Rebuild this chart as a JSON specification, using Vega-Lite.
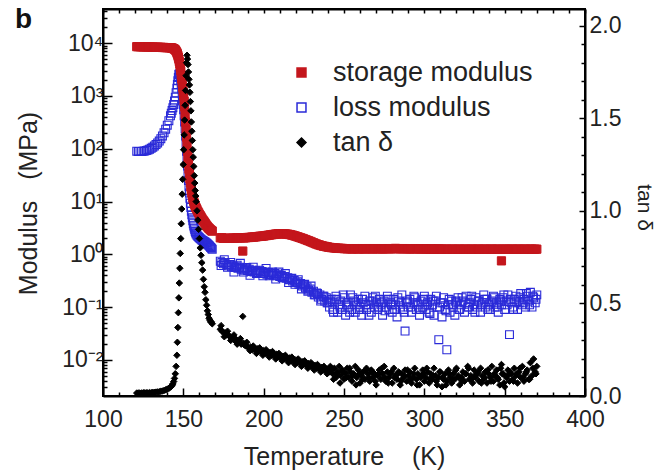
{
"$schema": "https://vega.github.io/schema/vega-lite/v6.json",
"width": 482, "height": 387,
"autosize": {"type": "none"},
"padding": {"left": 103, "top": 9, "right": 80, "bottom": 79},
"background": "white",
"title": {"text": "b", "anchor": "start", "frame": "group", "fontSize": 28, "fontWeight": "bold", "font": "Liberation Sans", "color": "#111", "baseline": "alphabetic", "offset": 0, "dx": -88, "dy": 56},
"data": {"values": [
{"T":121,"a":8600,"b":90,"c":0.016},{"T":122,"a":8600,"b":89,"c":0.016},{"T":123,"a":8600,"b":89,"c":0.016},{"T":124,"a":8550,"b":89,"c":0.016},{"T":125,"a":8550,"b":90,"c":0.017},{"T":126,"a":8550,"b":91,"c":0.017},{"T":127,"a":8500,"b":93,"c":0.017},{"T":128,"a":8500,"b":95,"c":0.017},{"T":129,"a":8500,"b":98,"c":0.018},{"T":130,"a":8450,"b":102,"c":0.018},{"T":131,"a":8450,"b":107,"c":0.019},{"T":132,"a":8400,"b":113,"c":0.02},{"T":133,"a":8400,"b":120,"c":0.021},{"T":134,"a":8400,"b":129,"c":0.022},{"T":135,"a":8350,"b":140,"c":0.023},{"T":136,"a":8350,"b":155,"c":0.025},{"T":137,"a":8300,"b":175,"c":0.027},{"T":138,"a":8300,"b":200,"c":0.03},{"T":139,"a":8250,"b":235,"c":0.033},{"T":140,"a":8250,"b":280,"c":0.037},{"T":141,"a":8200,"b":340,"c":0.042},{"T":142,"a":8200,"b":420,"c":0.048},{"T":142.5,"a":8150,"b":470,"c":0.052},{"T":143,"a":8100,"b":530,"c":0.058},{"T":143.5,"a":8000,"b":600,"c":0.066},{"T":144,"a":7900,"b":690,"c":0.078},{"T":144.5,"a":7700,"b":800,"c":0.095},{"T":145,"a":7450,"b":950,"c":0.12},{"T":145.5,"a":7100,"b":1150,"c":0.16},{"T":146,"a":6650,"b":1400,"c":0.22},{"T":146.3,"a":6300,"b":1650,"c":0.29},{"T":146.6,"a":5900,"b":1950,"c":0.37},{"T":146.9,"a":5450,"b":2250,"c":0.45},{"T":147.2,"a":5000,"b":2550,"c":0.53},{"T":147.5,"a":4500,"b":2650,"c":0.61},{"T":147.8,"a":4000,"b":2500,"c":0.69},{"T":148.1,"a":3500,"b":2250,"c":0.77},{"T":148.4,"a":3000,"b":1950,"c":0.85},{"T":148.7,"a":2500,"b":1650,"c":0.93},{"T":149,"a":2100,"b":1350,"c":1.01},{"T":149.3,"a":1750,"b":1100,"c":1.09},{"T":149.6,"a":1450,"b":880,"c":1.17},{"T":149.9,"a":1200,"b":700,"c":1.25},{"T":150.2,"a":1000,"b":550,"c":1.33},{"T":150.5,"a":800,"b":420,"c":1.41},{"T":150.8,"a":620,"b":320,"c":1.49},{"T":151.1,"a":450,"b":240,"c":1.57},{"T":151.4,"a":320,"b":175,"c":1.65},{"T":151.7,"a":230,"b":125,"c":1.73},{"T":152,"a":165,"b":90,"c":1.8},{"T":152.3,"a":120,"b":65,"c":1.84},{"T":152.6,"a":90,"b":47,"c":1.82},{"T":152.9,"a":68,"b":34,"c":1.79},{"T":153.2,"a":52,"b":25,"c":1.75},{"T":153.5,"a":41,"b":19,"c":1.71},{"T":153.8,"a":33,"b":14.5,"c":1.68},{"T":154.1,"a":27,"b":11.5,"c":1.64},{"T":154.4,"a":22.5,"b":9.3,"c":1.59},{"T":154.7,"a":19,"b":7.7,"c":1.54},{"T":155,"a":16.5,"b":6.5,"c":1.48},{"T":155.3,"a":14.5,"b":5.6,"c":1.43},{"T":155.6,"a":13,"b":4.9,"c":1.38},{"T":155.9,"a":11.8,"b":4.3,"c":1.33},{"T":156.2,"a":10.8,"b":3.8,"c":1.29},{"T":156.5,"a":10,"b":3.45,"c":1.24},{"T":156.8,"a":9.3,"b":3.15,"c":1.19},{"T":157.1,"a":8.7,"b":2.9,"c":1.15},{"T":157.4,"a":8.2,"b":2.7,"c":1.11},{"T":157.7,"a":7.8,"b":2.55,"c":1.08},{"T":158,"a":7.5,"b":2.42,"c":1.05},{"T":158.5,"a":7,"b":2.3,"c":1.0},{"T":159,"a":6.5,"b":2.2,"c":0.95},{"T":159.5,"a":6.1,"b":2.12,"c":0.9},{"T":160,"a":5.7,"b":2.05,"c":0.85},{"T":160.5,"a":5.4,"b":1.98,"c":0.8},{"T":161,"a":5.1,"b":1.92,"c":0.76},{"T":161.5,"a":4.8,"b":1.87,"c":0.72},{"T":162,"a":4.5,"b":1.82,"c":0.68},{"T":162.5,"a":4.3,"b":1.78,"c":0.63},{"T":163,"a":4.1,"b":1.74,"c":0.59},{"T":163.5,"a":3.9,"b":1.7,"c":0.56},{"T":164,"a":3.7,"b":1.66,"c":0.52},{"T":164.5,"a":3.5,"b":1.62,"c":0.49},{"T":165,"a":3.35,"b":1.57,"c":0.46},{"T":165.5,"a":3.2,"b":1.52,"c":0.44},{"T":166,"a":3.1,"b":1.47,"c":0.42},{"T":166.5,"a":3,"b":1.41,"c":0.41},{"T":167,"a":2.9,"b":1.35,"c":0.4},{"T":167.5,"a":2.8,"b":1.3,"c":0.4},{"T":168,"a":2.75,"b":1.25,"c":0.39},
{"T":173,"a":2.05,"b":0.74,"c":0.36},{"T":174,"a":2.05,"b":0.7,"c":0.35},{"T":175,"a":2.0,"b":0.66,"c":0.345},{"T":176,"a":2.0,"b":0.68,"c":0.34},{"T":177,"a":2.0,"b":0.63,"c":0.33},{"T":178,"a":2.0,"b":0.62,"c":0.33},{"T":179,"a":2.0,"b":0.64,"c":0.32},{"T":180,"a":2.02,"b":0.58,"c":0.31},{"T":181,"a":2.02,"b":0.6,"c":0.315},{"T":182,"a":2.02,"b":0.56,"c":0.3},{"T":183,"a":2.04,"b":0.58,"c":0.305},{"T":184,"a":2.04,"b":0.54,"c":0.29},{"T":185,"a":2.05,"b":0.57,"c":0.3},{"T":186,"a":2.05,"b":0.52,"c":0.28},{"T":187,"a":1.15,"b":0.55,"c":0.43},{"T":187.5,"a":2.05,"b":0.46,"c":0.285},{"T":188,"a":2.05,"b":0.5,"c":0.275},{"T":189,"a":2.06,"b":0.53,"c":0.27},{"T":190,"a":2.08,"b":0.49,"c":0.265},
{"T":191,"a":2.08,"b":0.52,"c":0.26},{"T":192,"a":2.1,"b":0.47,"c":0.265},{"T":193,"a":2.12,"b":0.5,"c":0.25},{"T":194,"a":2.12,"b":0.46,"c":0.26},{"T":195,"a":2.14,"b":0.49,"c":0.245},{"T":196,"a":2.16,"b":0.45,"c":0.255},{"T":197,"a":2.18,"b":0.48,"c":0.24},{"T":198,"a":2.2,"b":0.44,"c":0.25},{"T":199,"a":2.2,"b":0.47,"c":0.235},{"T":200,"a":2.22,"b":0.43,"c":0.245},{"T":201,"a":2.25,"b":0.46,"c":0.23},{"T":202,"a":2.27,"b":0.42,"c":0.24},{"T":203,"a":2.3,"b":0.45,"c":0.225},{"T":204,"a":2.32,"b":0.41,"c":0.235},{"T":205,"a":2.35,"b":0.44,"c":0.22},{"T":206,"a":2.37,"b":0.4,"c":0.23},{"T":207,"a":2.4,"b":0.43,"c":0.215},{"T":208,"a":2.42,"b":0.39,"c":0.225},{"T":209,"a":2.43,"b":0.42,"c":0.21},{"T":210,"a":2.45,"b":0.38,"c":0.22},
{"T":211,"a":2.45,"b":0.4,"c":0.205},{"T":212,"a":2.45,"b":0.37,"c":0.215},{"T":213,"a":2.44,"b":0.38,"c":0.2},{"T":214,"a":2.42,"b":0.35,"c":0.21},{"T":215,"a":2.4,"b":0.36,"c":0.195},{"T":216,"a":2.37,"b":0.33,"c":0.205},{"T":217,"a":2.33,"b":0.34,"c":0.19},{"T":218,"a":2.3,"b":0.31,"c":0.2},{"T":219,"a":2.25,"b":0.32,"c":0.185},{"T":220,"a":2.2,"b":0.29,"c":0.195},{"T":221,"a":2.15,"b":0.3,"c":0.18},{"T":222,"a":2.1,"b":0.27,"c":0.19},{"T":223,"a":2.05,"b":0.28,"c":0.175},{"T":224,"a":2.0,"b":0.25,"c":0.185},{"T":225,"a":1.95,"b":0.26,"c":0.17},{"T":226,"a":1.9,"b":0.23,"c":0.18},{"T":227,"a":1.85,"b":0.24,"c":0.165},{"T":228,"a":1.8,"b":0.21,"c":0.175},{"T":229,"a":1.75,"b":0.22,"c":0.16},{"T":230,"a":1.7,"b":0.19,"c":0.17},
{"T":231,"a":1.65,"b":0.2,"c":0.155},{"T":232,"a":1.6,"b":0.17,"c":0.165},{"T":233,"a":1.56,"b":0.185,"c":0.15},{"T":234,"a":1.52,"b":0.155,"c":0.16},{"T":235,"a":1.49,"b":0.17,"c":0.145},{"T":236,"a":1.46,"b":0.14,"c":0.155},{"T":237,"a":1.43,"b":0.16,"c":0.14},{"T":238,"a":1.41,"b":0.13,"c":0.15},{"T":239,"a":1.39,"b":0.15,"c":0.135},{"T":240,"a":1.37,"b":0.12,"c":0.145},{"T":241,"a":1.35,"b":0.1,"c":0.13},{"T":242,"a":1.34,"b":0.14,"c":0.14},{"T":243,"a":1.33,"b":0.09,"c":0.12},{"T":244,"a":1.32,"b":0.12,"c":0.15},{"T":245,"a":1.31,"b":0.16,"c":0.1},{"T":246,"a":1.3,"b":0.08,"c":0.13},{"T":247,"a":1.3,"b":0.11,"c":0.16},{"T":248,"a":1.29,"b":0.13,"c":0.11},{"T":249,"a":1.29,"b":0.09,"c":0.14},{"T":250,"a":1.28,"b":0.15,"c":0.09},
{"T":251,"a":1.28,"b":0.07,"c":0.12},{"T":252,"a":1.27,"b":0.12,"c":0.15},{"T":253,"a":1.28,"b":0.1,"c":0.1},{"T":254,"a":1.27,"b":0.17,"c":0.13},{"T":255,"a":1.26,"b":0.09,"c":0.08},{"T":256,"a":1.27,"b":0.13,"c":0.12},{"T":257,"a":1.28,"b":0.08,"c":0.16},{"T":258,"a":1.27,"b":0.11,"c":0.1},{"T":259,"a":1.26,"b":0.14,"c":0.14},{"T":260,"a":1.27,"b":0.1,"c":0.07},{"T":261,"a":1.28,"b":0.07,"c":0.11},{"T":262,"a":1.27,"b":0.12,"c":0.13},{"T":263,"a":1.26,"b":0.16,"c":0.09},{"T":264,"a":1.27,"b":0.09,"c":0.15},{"T":265,"a":1.28,"b":0.11,"c":0.12},{"T":266,"a":1.28,"b":0.13,"c":0.08},{"T":267,"a":1.27,"b":0.08,"c":0.14},{"T":268,"a":1.26,"b":0.15,"c":0.1},{"T":269,"a":1.27,"b":0.1,"c":0.12},{"T":270,"a":1.28,"b":0.12,"c":0.06},
{"T":271,"a":1.28,"b":0.09,"c":0.11},{"T":272,"a":1.27,"b":0.14,"c":0.14},{"T":273,"a":1.27,"b":0.11,"c":0.09},{"T":274,"a":1.26,"b":0.07,"c":0.12},{"T":275,"a":1.27,"b":0.13,"c":0.16},{"T":276,"a":1.28,"b":0.1,"c":0.08},{"T":277,"a":1.28,"b":0.16,"c":0.13},{"T":278,"a":1.27,"b":0.09,"c":0.1},{"T":279,"a":1.27,"b":0.12,"c":0.12},{"T":280,"a":1.28,"b":0.08,"c":0.07},{"T":281,"a":1.28,"b":0.14,"c":0.15},{"T":282,"a":1.29,"b":0.11,"c":0.11},{"T":283,"a":1.28,"b":0.065,"c":0.09},{"T":284,"a":1.28,"b":0.13,"c":0.13},{"T":285,"a":1.27,"b":0.1,"c":0.06},{"T":286,"a":1.27,"b":0.17,"c":0.12},{"T":287,"a":1.28,"b":0.09,"c":0.1},{"T":288,"a":1.28,"b":0.035,"c":0.14},{"T":289,"a":1.27,"b":0.12,"c":0.08},{"T":290,"a":1.27,"b":0.1,"c":0.11},
{"T":291,"a":1.26,"b":0.14,"c":0.13},{"T":292,"a":1.27,"b":0.08,"c":0.07},{"T":293,"a":1.27,"b":0.12,"c":0.1},{"T":294,"a":1.28,"b":0.15,"c":0.15},{"T":295,"a":1.27,"b":0.09,"c":0.09},{"T":296,"a":1.27,"b":0.11,"c":0.12},{"T":297,"a":1.26,"b":0.07,"c":0.06},{"T":298,"a":1.26,"b":0.13,"c":0.11},{"T":299,"a":1.27,"b":0.1,"c":0.14},{"T":300,"a":1.27,"b":0.16,"c":0.08},{"T":301,"a":1.26,"b":0.09,"c":0.1},{"T":302,"a":1.26,"b":0.12,"c":0.13},{"T":303,"a":1.25,"b":0.08,"c":0.07},{"T":304,"a":1.26,"b":0.14,"c":0.12},{"T":305,"a":1.26,"b":0.11,"c":0.09},{"T":306,"a":1.25,"b":0.07,"c":0.15},{"T":307,"a":1.25,"b":0.13,"c":0.11},{"T":308,"a":1.26,"b":0.1,"c":0.06},{"T":309,"a":1.26,"b":0.024,"c":0.1},{"T":310,"a":1.25,"b":0.12,"c":0.13},
{"T":311,"a":1.25,"b":0.065,"c":0.05},{"T":312,"a":1.24,"b":0.15,"c":0.09},{"T":313,"a":1.25,"b":0.09,"c":0.12},{"T":314,"a":1.25,"b":0.0155,"c":0.08},{"T":315,"a":1.24,"b":0.11,"c":0.14},{"T":316,"a":1.24,"b":0.08,"c":0.1},{"T":317,"a":1.25,"b":0.13,"c":0.07},{"T":318,"a":1.25,"b":0.1,"c":0.12},{"T":319,"a":1.24,"b":0.07,"c":0.09},{"T":320,"a":1.24,"b":0.12,"c":0.15},{"T":321,"a":1.25,"b":0.15,"c":0.11},{"T":322,"a":1.25,"b":0.09,"c":0.06},{"T":323,"a":1.24,"b":0.11,"c":0.1},{"T":324,"a":1.24,"b":0.13,"c":0.13},{"T":325,"a":1.25,"b":0.08,"c":0.08},{"T":326,"a":1.25,"b":0.16,"c":0.12},{"T":327,"a":1.24,"b":0.1,"c":0.16},{"T":328,"a":1.24,"b":0.12,"c":0.09},{"T":329,"a":1.25,"b":0.14,"c":0.11},{"T":330,"a":1.25,"b":0.09,"c":0.07},
{"T":331,"a":1.24,"b":0.11,"c":0.14},{"T":332,"a":1.24,"b":0.15,"c":0.1},{"T":333,"a":1.25,"b":0.1,"c":0.12},{"T":334,"a":1.25,"b":0.13,"c":0.08},{"T":335,"a":1.24,"b":0.08,"c":0.15},{"T":336,"a":1.24,"b":0.12,"c":0.11},{"T":337,"a":1.25,"b":0.17,"c":0.09},{"T":338,"a":1.25,"b":0.1,"c":0.13},{"T":339,"a":1.24,"b":0.14,"c":0.07},{"T":340,"a":1.24,"b":0.11,"c":0.12},{"T":341,"a":1.25,"b":0.09,"c":0.1},{"T":342,"a":1.25,"b":0.13,"c":0.16},{"T":343,"a":1.24,"b":0.16,"c":0.08},{"T":344,"a":1.24,"b":0.1,"c":0.11},{"T":345,"a":1.25,"b":0.12,"c":0.14},{"T":346,"a":1.25,"b":0.08,"c":0.09},{"T":347,"a":1.24,"b":0.14,"c":0.06},{"T":348,"a":0.75,"b":0.11,"c":0.17},{"T":348.5,"a":1.24,"c":0.12},{"T":349,"a":1.24,"b":0.15,"c":0.12},{"T":350,"a":1.25,"b":0.09,"c":0.05},
{"T":351,"a":1.25,"b":0.13,"c":0.1},{"T":352,"a":1.24,"b":0.17,"c":0.14},{"T":353,"a":1.24,"b":0.03,"c":0.08},{"T":354,"a":1.25,"b":0.12,"c":0.12},{"T":355,"a":1.25,"b":0.1,"c":0.09},{"T":356,"a":1.24,"b":0.14,"c":0.15},{"T":357,"a":1.24,"b":0.16,"c":0.11},{"T":358,"a":1.25,"b":0.09,"c":0.07},{"T":359,"a":1.25,"b":0.12,"c":0.13},{"T":360,"a":1.24,"b":0.18,"c":0.1},{"T":361,"a":1.24,"b":0.11,"c":0.16},{"T":362,"a":1.25,"b":0.14,"c":0.08},{"T":363,"a":1.25,"b":0.1,"c":0.12},{"T":364,"a":1.24,"b":0.16,"c":0.14},{"T":365,"a":1.24,"b":0.13,"c":0.09},{"T":366,"a":1.25,"b":0.19,"c":0.18},{"T":367,"a":1.25,"b":0.1,"c":0.11},{"T":368,"a":1.24,"b":0.15,"c":0.2},{"T":369,"a":1.25,"b":0.12,"c":0.13},{"T":370,"a":1.25,"b":0.17,"c":0.16},
{"T":173.5,"b":0.61,"c":0.38},{"T":175.5,"b":0.79,"c":0.32},{"T":177.5,"b":0.57,"c":0.35},{"T":179.5,"b":0.7,"c":0.3},{"T":181.5,"b":0.46,"c":0.33},{"T":183.5,"b":0.62,"c":0.28},{"T":185.5,"b":0.675,"c":0.31},{"T":189.5,"b":0.56,"c":0.29},{"T":191.5,"b":0.4,"c":0.245},{"T":193.5,"b":0.57,"c":0.27},{"T":195.5,"b":0.43,"c":0.23},{"T":197.5,"b":0.5,"c":0.26},{"T":199.5,"b":0.39,"c":0.22},{"T":201.5,"b":0.54,"c":0.25},{"T":203.5,"b":0.39,"c":0.21},{"T":205.5,"b":0.46,"c":0.24},{"T":207.5,"b":0.34,"c":0.2},{"T":209.5,"b":0.46,"c":0.23},{"T":211.5,"b":0.36,"c":0.19},{"T":213.5,"b":0.43,"c":0.22},{"T":215.5,"b":0.29,"c":0.18},{"T":217.5,"b":0.35,"c":0.21},{"T":219.5,"b":0.27,"c":0.17},{"T":221.5,"b":0.33,"c":0.2},{"T":223.5,"b":0.22,"c":0.16},{"T":225.5,"b":0.27,"c":0.19},{"T":227.5,"b":0.2,"c":0.15},{"T":229.5,"b":0.25,"c":0.18},{"T":231.5,"b":0.17,"c":0.14},{"T":233.5,"b":0.18,"c":0.17},{"T":235.5,"b":0.13,"c":0.13},{"T":237.5,"b":0.16,"c":0.16},{"T":239.5,"b":0.12,"c":0.12},
{"T":241.5,"b":0.13,"c":0.16},{"T":243.5,"b":0.08,"c":0.09},{"T":245.5,"b":0.14,"c":0.12},{"T":247.5,"b":0.1,"c":0.07},{"T":249.5,"b":0.17,"c":0.13},{"T":251.5,"b":0.11,"c":0.1},{"T":253.5,"b":0.08,"c":0.15},{"T":255.5,"b":0.15,"c":0.11},{"T":257.5,"b":0.12,"c":0.06},{"T":259.5,"b":0.09,"c":0.12},{"T":261.5,"b":0.14,"c":0.09},{"T":263.5,"b":0.11,"c":0.14},{"T":265.5,"b":0.07,"c":0.1},{"T":267.5,"b":0.13,"c":0.13},{"T":269.5,"b":0.16,"c":0.08},{"T":271.5,"b":0.1,"c":0.12},{"T":273.5,"b":0.12,"c":0.15},{"T":275.5,"b":0.085,"c":0.1},{"T":277.5,"b":0.14,"c":0.07},{"T":279.5,"b":0.11,"c":0.13},{"T":281.5,"b":0.09,"c":0.1},{"T":283.5,"b":0.15,"c":0.12},{"T":285.5,"b":0.12,"c":0.08},{"T":287.5,"b":0.08,"c":0.11},{"T":289.5,"b":0.13,"c":0.14},{"T":291.5,"b":0.1,"c":0.09},{"T":293.5,"b":0.16,"c":0.12},{"T":295.5,"b":0.12,"c":0.06},{"T":297.5,"b":0.09,"c":0.1},{"T":299.5,"b":0.14,"c":0.12},{"T":301.5,"b":0.11,"c":0.15},{"T":303.5,"b":0.075,"c":0.09},{"T":305.5,"b":0.13,"c":0.11},
{"T":307.5,"b":0.16,"c":0.08},{"T":309.5,"b":0.1,"c":0.13},{"T":311.5,"b":0.12,"c":0.1},{"T":313.5,"b":0.085,"c":0.06},{"T":315.5,"b":0.14,"c":0.12},{"T":317.5,"b":0.11,"c":0.09},{"T":319.5,"b":0.13,"c":0.14},{"T":321.5,"b":0.09,"c":0.1},{"T":323.5,"b":0.15,"c":0.08},{"T":325.5,"b":0.12,"c":0.12},{"T":327.5,"b":0.1,"c":0.15},{"T":329.5,"b":0.16,"c":0.09},{"T":331.5,"b":0.08,"c":0.11},{"T":333.5,"b":0.13,"c":0.13},{"T":335.5,"b":0.11,"c":0.07},{"T":337.5,"b":0.14,"c":0.1},{"T":339.5,"b":0.09,"c":0.14},{"T":341.5,"b":0.12,"c":0.08},{"T":343.5,"b":0.15,"c":0.12},{"T":345.5,"b":0.1,"c":0.1},{"T":347.5,"b":0.13,"c":0.15},{"T":349.5,"b":0.17,"c":0.07},{"T":351.5,"b":0.11,"c":0.11},{"T":353.5,"b":0.14,"c":0.13},{"T":355.5,"b":0.09,"c":0.08},{"T":357.5,"b":0.13,"c":0.12},{"T":359.5,"b":0.15,"c":0.15},{"T":361.5,"b":0.12,"c":0.1},{"T":363.5,"b":0.18,"c":0.13},{"T":365.5,"b":0.11,"c":0.09},{"T":367.5,"b":0.16,"c":0.15},{"T":369.5,"b":0.14,"c":0.12}
]},
"encoding": {
  "x": {"field": "T", "type": "quantitative", "scale": {"domain": [100, 400], "nice": false, "zero": false},
        "axis": {"orient": "bottom", "values": [100,110,120,130,140,150,160,170,180,190,200,210,220,230,240,250,260,270,280,290,300,310,320,330,340,350,360,370,380,390,400],
                 "labelExpr": "datum.value % 50 == 0 ? datum.label : ''",
                 "tickSize": {"condition": {"test": "datum.value % 50 == 0", "value": -8}, "value": -4},
                 "labelPadding": 20,
                 "title": "Temperature\u00a0\u00a0\u00a0\u00a0(K)", "titleX": 241, "titleY": 60, "titleBaseline": "middle", "titleAnchor": "middle", "titleAlign": "center"}},
  "fill": {"field": "k", "type": "nominal",
           "scale": {"domain": ["a", "b", "c"], "range": ["#c4161c", "transparent", "#000000"]},
           "legend": {"orient": "none", "legendX": 185, "legendY": 50, "title": null, "padding": 0,
                      "labelFontSize": 27, "labelFont": "Liberation Sans", "labelColor": "#222", "labelLimit": 400,
                      "symbolSize": 80, "symbolStrokeWidth": 1.5, "rowPadding": 7, "labelOffset": 18,
                      "labelExpr": "datum.value == 'a' ? 'storage modulus' : datum.value == 'b' ? 'loss modulus' : 'tan δ'"}},
  "stroke": {"field": "k", "type": "nominal",
             "scale": {"domain": ["a", "b", "c"], "range": ["#c4161c", "#2a2ad8", "#000000"]}},
  "shape": {"field": "k", "type": "nominal",
            "scale": {"domain": ["a", "b", "c"], "range": ["square", "square", "diamond"]}}
},
"layer": [
  {
    "encoding": {
      "y": {"field": "v", "type": "quantitative",
            "scale": {"type": "log", "domain": [0.00206, 44500], "nice": false},
            "axis": {"orient": "left",
                     "values": [0.003,0.004,0.005,0.006,0.007,0.008,0.009,0.01,0.02,0.03,0.04,0.05,0.06,0.07,0.08,0.09,0.1,0.2,0.3,0.4,0.5,0.6,0.7,0.8,0.9,1,2,3,4,5,6,7,8,9,10,20,30,40,50,60,70,80,90,100,200,300,400,500,600,700,800,900,1000,2000,3000,4000,5000,6000,7000,8000,9000,10000,20000,30000,40000],
                     "labelExpr": "datum.value == 0.01 ? '10⁻²' : datum.value == 0.1 ? '10⁻¹' : datum.value == 1 ? '10⁰' : datum.value == 10 ? '10¹' : datum.value == 100 ? '10²' : datum.value == 1000 ? '10³' : datum.value == 10000 ? '10⁴' : ''",
                     "tickSize": {"condition": {"test": "indexof([0.01,0.1,1,10,100,1000,10000], datum.value) >= 0", "value": -9}, "value": -4},
                     "labelPadding": 9,
                     "title": "Modulus\u00a0\u00a0\u00a0(MPa)", "titleX": -75, "titleY": 194, "titleBaseline": "middle", "titleAlign": "center"}}
    },
    "layer": [
      {"transform": [{"fold": ["b"], "as": ["k", "v"]}],
       "mark": {"type": "point", "size": 62, "strokeWidth": 1.1, "opacity": 1}},
      {"transform": [{"fold": ["a"], "as": ["k", "v"]}],
       "mark": {"type": "point", "size": 68, "strokeWidth": 1, "opacity": 1}}
    ]
  },
  {
    "transform": [{"fold": ["c"], "as": ["k", "v"]}],
    "mark": {"type": "point", "size": 42, "strokeWidth": 1, "opacity": 1},
    "encoding": {
      "x": {"field": "T", "type": "quantitative", "scale": {"domain": [100, 400], "nice": false, "zero": false},
            "axis": {"orient": "top", "values": [100,110,120,130,140,150,160,170,180,190,200,210,220,230,240,250,260,270,280,290,300,310,320,330,340,350,360,370,380,390,400],
                     "labels": false, "tickSize": -4, "title": null}},
      "y": {"field": "v", "type": "quantitative",
            "scale": {"domain": [0, 2.09], "nice": false, "zero": false},
            "axis": {"orient": "right",
                     "values": [0,0.1,0.2,0.3,0.4,0.5,0.6,0.7,0.8,0.9,1,1.1,1.2,1.3,1.4,1.5,1.6,1.7,1.8,1.9,2],
                     "labelExpr": "round(datum.value * 10) % 5 == 0 ? format(datum.value, '.1f') : ''",
                     "tickSize": {"condition": {"test": "round(datum.value * 10) % 5 == 0", "value": -6}, "value": -4},
                     "labelPadding": 10,
                     "title": "tan δ", "titleFontSize": 21, "titleX": 58, "titleY": 198, "titleBaseline": "middle", "titleAlign": "center", "titleAngle": 90}}
    }
  }
],
"resolve": {"scale": {"y": "independent"}, "axis": {"x": "independent", "y": "independent"}},
"config": {
  "view": {"stroke": "black", "strokeWidth": 2},
  "font": "Liberation Sans",
  "axis": {"domainColor": "black", "domainWidth": 2, "tickColor": "black", "tickWidth": 1.5,
           "labelFont": "Liberation Sans", "labelFontSize": 23, "labelColor": "#222", "labelFlush": false, "labelOverlap": false,
           "titleFont": "Liberation Sans", "titleFontSize": 25, "titleFontWeight": "normal", "titleColor": "#222", "grid": false}
}
}
